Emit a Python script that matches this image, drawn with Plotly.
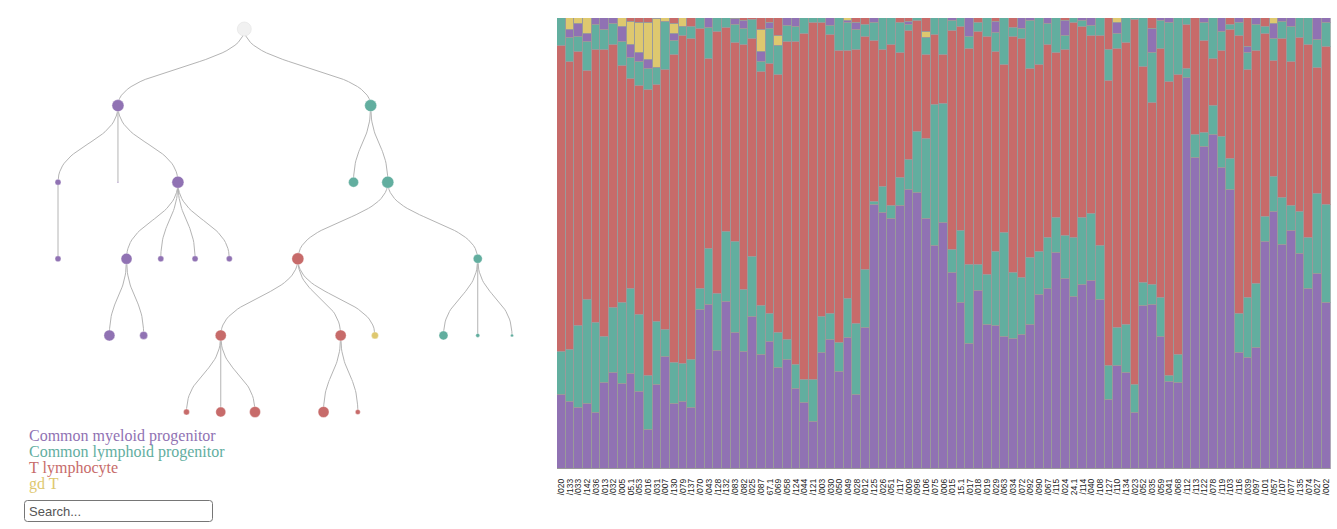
import plotly.graph_objects as go

# ---------------- data ----------------
samples = ["/020", "/133", "/033", "/142", "/036", "/013", "/032", "/005", "05.1", "/053",
           "/016", "/031", "/007", "/130", "/079", "/137", "/070", "/043", "/128", "/132",
           "/083", "/082", "/025", "/087", "67.1", "/069", "/058", "/124", "/044", "/121",
           "/003", "/030", "/050", "/049", "/028", "/012", "/125", "/026", "/051", "/117",
           "/009", "/096", "/106", "/075", "/006", "/015", "15.1", "/017", "/018", "/019",
           "/029", "/063", "/034", "/072", "/092", "/090", "/067", "/115", "/024", "24.1",
           "/114", "/040", "/108", "/127", "/110", "/134", "/023", "/052", "/035", "/059",
           "/041", "/068", "/112", "/113", "/122", "/078", "/119", "/103", "/116", "/039",
           "/097", "/101", "/057", "/107", "/077", "/135", "/074", "/027", "/002"]

cmp_low = [16.4, 14.9, 13.6, 14.5, 12.5, 19.0, 21.3, 18.9, 21.1, 17.1,
           8.6, 18.6, 24.9, 14.5, 14.9, 13.6, 35.3, 36.4, 25.4, 37.0,
           30.2, 25.9, 33.6, 25.3, 28.1, 22.3, 24.2, 17.7, 14.6, 10.3,
           25.6, 28.4, 21.4, 29.1, 16.4, 31.3, 58.4, 56.6, 55.2, 58.1,
           61.7, 61.1, 55.4, 49.2, 54.4, 43.2, 36.8, 27.6, 39.3, 31.6,
           31.8, 29.2, 28.8, 29.6, 31.9, 38.6, 39.9, 47.7, 42.3, 38.0,
           40.7, 41.5, 37.3, 15.3, 22.9, 21.2, 12.3, 36.0, 36.4, 29.1,
           19.2, 19.0, 86.5, 68.9, 71.2, 73.3, 66.7, 61.9, 25.6, 24.5,
           26.8, 50.2, 56.9, 49.1, 52.6, 47.6, 39.9, 43.0, 36.7]
clp_low = [9.6, 11.5, 18.1, 23.0, 19.8, 10.3, 14.3, 18.0, 18.8, 17.1,
           12.0, 14.0, 5.8, 8.9, 8.4, 10.5, 4.6, 12.3, 12.4, 15.7,
           20.0, 13.7, 13.5, 10.9, 6.2, 7.8, 4.4, 5.3, 5.2, 9.5,
           7.9, 5.9, 6.4, 8.7, 15.7, 12.7, 0.7, 5.8, 3.0, 6.4,
           6.7, 13.7, 17.7, 31.2, 26.3, 5.2, 15.8, 17.4, 5.9, 11.1,
           16.3, 23.1, 14.6, 12.7, 14.8, 9.5, 11.2, 7.8, 9.5, 13.2,
           14.9, 14.9, 12.0, 7.6, 8.3, 10.7, 6.3, 5.2, 4.3, 8.7,
           1.3, 6.1, 2.0, 5.2, 3.0, 6.3, 6.8, 6.7, 8.6, 13.3,
           14.2, 5.5, 7.7, 10.3, 5.5, 9.3, 11.2, 17.7, 21.8]
t_lym = [67.8, 63.9, 60.6, 50.6, 60.7, 63.7, 58.5, 52.5, 46.6, 50.7,
         63.4, 52.5, 57.7, 68.2, 72.7, 71.2, 57.6, 42.1, 56.5, 45.1,
         44.1, 54.5, 48.3, 51.9, 55.4, 57.3, 66.0, 71.5, 76.5, 78.8,
         65.0, 61.6, 64.5, 54.9, 60.8, 51.6, 35.6, 30.3, 35.6, 27.6,
         28.7, 24.5, 18.7, 15.5, 10.9, 48.3, 45.1, 47.9, 51.4, 52.5,
         44.5, 37.1, 52.3, 52.8, 41.8, 41.4, 42.7, 36.5, 41.2, 47.7,
         42.3, 39.4, 46.6, 63.0, 61.7, 62.2, 80.9, 47.7, 40.2, 54.9,
         65.2, 61.7, 9.8, 25.9, 20.5, 10.3, 18.9, 28.6, 61.6, 50.3,
         51.6, 40.4, 25.5, 35.1, 31.9, 38.4, 42.7, 27.9, 34.9]
clp_top = [6.2, 5.3, 3.5, 6.4, 5.5, 4.4, 4.5, 5.2, 4.7, 5.3,
           4.7, 3.8, 10.7, 3.1, 2.0, 2.7, 2.5, 6.9, 3.0, 2.3,
           4.1, 3.4, 4.2, 2.2, 7.8, 6.3, 3.4, 3.3, 3.5, 1.2,
           1.2, 2.0, 7.4, 6.1, 4.4, 2.8, 3.8, 7.0, 5.9, 6.7,
           1.3, 0.7, 3.8, 3.7, 8.1, 2.2, 2.1, 2.7, 2.2, 4.1,
           4.1, 10.4, 1.9, 2.2, 10.6, 10.3, 4.6, 7.8, 3.2, 1.0,
           1.2, 2.2, 3.9, 6.8, 3.3, 5.6, 0.4, 10.9, 11.1, 6.1,
           13.2, 12.6, 1.5, 0.0, 3.8, 9.1, 4.2, 1.2, 3.0, 3.7,
           5.8, 1.6, 5.0, 3.6, 7.8, 4.4, 5.9, 6.3, 5.4]
cmp_top = [0.0, 1.7, 2.7, 1.8, 1.6, 2.7, 1.4, 3.5, 2.8, 2.0,
           2.0, 0.0, 0.0, 1.7, 0.0, 0.0, 0.0, 2.3, 0.0, 0.0,
           1.3, 1.8, 0.0, 2.2, 1.5, 0.0, 1.8, 1.9, 0.0, 0.0,
           0.0, 1.7, 0.0, 0.6, 1.5, 0.0, 1.2, 0.0, 0.0, 0.0,
           0.7, 0.0, 0.0, 0.0, 0.0, 0.7, 0.0, 4.1, 0.0, 0.0,
           2.6, 0.0, 0.0, 2.4, 0.7, 0.0, 1.3, 0.0, 3.3, 0.0,
           0.7, 1.7, 0.0, 0.0, 2.4, 0.0, 0.0, 0.0, 5.4, 0.7,
           1.0, 0.0, 0.0, 0.0, 1.2, 0.0, 3.2, 0.0, 1.0, 1.5,
           1.5, 0.0, 3.3, 0.9, 1.9, 0.0, 0.0, 4.8, 1.0]
gd_t = [0.0, 2.7, 1.4, 3.6, 0.0, 0.0, 0.0, 1.9, 5.2, 6.7,
        8.2, 10.7, 0.8, 2.2, 1.9, 0.0, 0.0, 0.0, 0.0, 0.0,
        0.0, 0.0, 0.0, 4.8, 0.0, 2.4, 0.0, 0.0, 0.0, 0.0,
        0.0, 0.0, 0.0, 0.6, 0.0, 0.0, 0.0, 0.0, 0.0, 0.0,
        0.0, 0.0, 1.2, 0.0, 0.0, 0.0, 0.0, 0.0, 0.0, 0.0,
        0.0, 0.0, 0.0, 0.0, 0.0, 0.0, 0.0, 0.0, 0.0, 0.0,
        0.0, 0.0, 0.0, 0.0, 1.2, 0.0, 0.0, 0.0, 0.0, 0.0,
        0.0, 0.0, 0.0, 0.0, 0.0, 0.0, 0.0, 0.0, 0.0, 0.0,
        0.0, 0.0, 1.3, 0.0, 0.0, 0.0, 0.0, 0.0, 0.0]
t_lym_top = [0.0, 0.0, 0.0, 0.0, 0.0, 0.0, 0.0, 0.0, 0.8, 1.0,
             1.0, 0.3, 0.0, 1.3, 0.0, 1.9, 0.0, 0.0, 0.0, 0.0,
             0.2, 0.7, 0.4, 2.7, 1.0, 3.9, 0.0, 0.0, 0.0, 0.0,
             0.0, 0.0, 0.0, 0.0, 1.2, 1.5, 0.0, 0.0, 0.0, 1.0,
             0.8, 0.0, 3.2, 0.0, 0.0, 0.0, 0.0, 0.0, 1.0, 0.0,
             0.8, 0.0, 2.2, 0.0, 0.0, 0.0, 0.0, 0.0, 0.7, 0.0,
             0.0, 0.0, 0.0, 7.1, 0.0, 0.0, 0.0, 0.0, 2.4, 0.0,
             0.0, 0.0, 0.0, 0.0, 0.0, 0.0, 0.0, 1.5, 0.0, 6.3,
             0.0, 2.0, 0.0, 0.0, 0.0, 0.0, 0.0, 0.0, 0.0]

cell_types = ["Common myeloid progenitor", "Common lymphoid progenitor", "T lymphocyte", "gd T"]

# lineage tree: parent index and cell type of each node, node weight
node_parent = [None, 0, 0, 1, 1, 1, 3, 5, 5, 5, 5, 7, 7, 2, 2, 14, 14, 15, 15, 15,
               17, 17, 17, 18, 18, 16, 16, 16]
node_type = [None, 0, 1, 0, 0, 0, 0, 0, 0, 0, 0, 0, 0, 1, 1, 2, 1, 2, 2, 3,
             2, 2, 2, 2, 2, 1, 1, 1]
node_weight = [14, 12, 12, 6, 1.5, 12, 6, 11, 6, 6, 6, 11, 8, 10, 12, 12, 9, 11, 11, 7,
               6, 10, 11, 11, 5, 9, 4, 3]

# ---------------- style ----------------
W, H = 1337, 529
COLORS = ["#9072b3", "#62ae9f", "#c76b6a", "#dec86f"]
ROOT_COLOR = "#f1f1f1"

# ---------------- tree layout (tidy tree, d3-like separation) ----------------
n_nodes = len(node_parent)
children = {i: [] for i in range(n_nodes)}
for i, p in enumerate(node_parent):
    if p is not None:
        children[p].append(i)

rel_x = {}


def lay(n):
    ch = children[n]
    if not ch:
        return {0: (0.0, 0.0)}
    conts = [lay(c) for c in ch]
    pos = [0.0] * len(ch)
    for i in range(1, len(ch)):
        pos[i] = pos[i - 1] + 1.0
        for d in range(1, max(conts[i].keys()) + 1):
            best = None
            for j in range(i):
                if d in conts[j]:
                    r = pos[j] + conts[j][d][1]
                    if best is None or r >= best[0]:
                        best = (r, j)
            if best is None:
                continue
            shift = best[0] + 2.0 - (pos[i] + conts[i][d][0])
            if shift > 1e-9:
                j = best[1]
                pos[i] += shift
                for k in range(j + 1, i):
                    pos[k] += shift * (k - j) / (i - j)
    mid = (pos[0] + pos[-1]) / 2.0
    cont = {0: (0.0, 0.0)}
    for c, p, cc in zip(ch, pos, conts):
        rel_x[c] = p - mid
        for d, (lo, hi) in cc.items():
            lo2, hi2 = lo + p - mid, hi + p - mid
            if d + 1 in cont:
                cont[d + 1] = (min(cont[d + 1][0], lo2), max(cont[d + 1][1], hi2))
            else:
                cont[d + 1] = (lo2, hi2)
    return cont


lay(0)
node_x = [0.0] * n_nodes
node_d = [0] * n_nodes
for i in range(1, n_nodes):
    p = node_parent[i]
    node_x[i] = node_x[p] + rel_x[i]
    node_d[i] = node_d[p] + 1

# links as vertical cubic beziers
lx, ly = [], []
for i in range(1, n_nodes):
    p = node_parent[i]
    x0, y0, x1, y1 = node_x[p], node_d[p], node_x[i], node_d[i]
    ym = (y0 + y1) / 2.0
    for s in range(31):
        t = s / 30.0
        a, b, c, e = (1 - t) ** 3, 3 * (1 - t) ** 2 * t, 3 * (1 - t) * t ** 2, t ** 3
        lx.append(a * x0 + b * x0 + c * x1 + e * x1)
        ly.append(a * y0 + b * ym + c * ym + e * y1)
    lx.append(None)
    ly.append(None)

fig = go.Figure()

fig.add_trace(go.Scatter(x=lx, y=ly, mode="lines", xaxis="x2", yaxis="y2",
                         line=dict(color="#b4b4b4", width=1), hoverinfo="skip",
                         showlegend=False, cliponaxis=False))
node_colors = [ROOT_COLOR if t is None else COLORS[t] for t in node_type]
node_lines = ["#e2e2e2" if t is None else "rgba(255,255,255,0.6)" for t in node_type]
fig.add_trace(go.Scatter(x=node_x, y=node_d, mode="markers", xaxis="x2", yaxis="y2",
                         marker=dict(size=node_weight, color=node_colors,
                                     line=dict(color=node_lines, width=0.6), opacity=1),
                         hoverinfo="skip", showlegend=False, cliponaxis=False))

# ---------------- stacked bars ----------------
xi = list(range(len(samples)))
layers = [(cmp_low, 0), (clp_low, 1), (t_lym, 2), (clp_top, 1), (cmp_top, 0), (gd_t, 3), (t_lym_top, 2)]
for vals, t in layers:
    fig.add_trace(go.Bar(x=xi, y=[v if v > 0 else None for v in vals],
                         name=cell_types[t],
                         marker=dict(color=COLORS[t], line=dict(color="#9a9a9a", width=1)),
                         hoverinfo="skip", showlegend=False))

# tree axes mapping
umin, umax = min(node_x), max(node_x)
s = (512 - 58) / (umax - umin)
tree_w = 557
row_h = (412 - 29) / 5.0

fig.update_layout(
    width=W, height=H,
    margin=dict(l=0, r=0, t=0, b=0),
    paper_bgcolor="white", plot_bgcolor="white",
    barmode="stack", barnorm="percent", bargap=0,
    showlegend=False,
    xaxis=dict(domain=[557 / W, 1330.5 / W], range=[-0.5, len(samples) - 0.5],
               tickmode="array", tickvals=xi, ticktext=samples, tickangle=-90,
               tickfont=dict(family="Liberation Sans, Arial", size=8.5, color="#222"),
               showgrid=False, zeroline=False, showline=False, ticks="",
               ticklabelstandoff=7, fixedrange=True),
    yaxis=dict(domain=[(H - 469) / H, (H - 18) / H], range=[0, 100], visible=False,
               fixedrange=True),
    xaxis2=dict(domain=[0, tree_w / W], anchor="y2",
                range=[umin - 58 / s, umin + (tree_w - 58) / s], visible=False),
    yaxis2=dict(domain=[0, 1], anchor="x2",
                range=[(H - 29) / row_h, -29 / row_h], visible=False),
)

# legend as coloured text
for k, name in enumerate(cell_types):
    fig.add_annotation(text=name, xref="paper", yref="paper", x=27 / W, y=1 - (436 + 16 * k) / H,
                       xanchor="left", yanchor="middle", showarrow=False,
                       font=dict(family="Liberation Serif, Times New Roman", size=16, color=COLORS[k]))

# search box
x0, x1, y0, y1 = 24.5 / W, 212.5 / W, 1 - 500.5 / H, 1 - 521.5 / H
rx, ry = 3 / W, 3 / H
path = (f"M {x0+rx},{y0} L {x1-rx},{y0} Q {x1},{y0} {x1},{y0-ry} L {x1},{y1+ry} "
        f"Q {x1},{y1} {x1-rx},{y1} L {x0+rx},{y1} Q {x0},{y1} {x0},{y1+ry} "
        f"L {x0},{y0-ry} Q {x0},{y0} {x0+rx},{y0} Z")
fig.add_shape(type="path", path=path, xref="paper", yref="paper",
              line=dict(color="#767676", width=1), fillcolor="white")
fig.add_annotation(text="Search...", xref="paper", yref="paper", x=27 / W, y=1 - 511 / H,
                   xanchor="left", yanchor="middle", showarrow=False,
                   font=dict(family="Liberation Sans, Arial", size=13, color="#555"))

fig.write_html("out.html", config={"displayModeBar": False},
               post_script="document.body.style.margin='0px';")
